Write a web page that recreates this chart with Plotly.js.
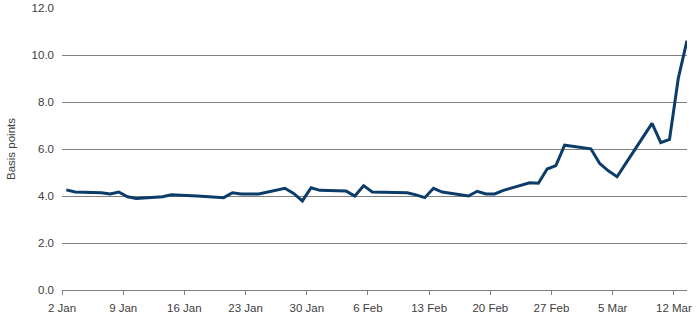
<!DOCTYPE html>
<html>
<head>
<meta charset="utf-8">
<script src="https://cdn.plot.ly/plotly-3.0.1.min.js"></script>
<style>
html,body{margin:0;padding:0;background:#fff;}
#chart{width:700px;height:322px;}
</style>
</head>
<body>
<div id="chart"></div>
<script>
// Trading dates (2020) and spread values in basis points
const dates = [
  '2020-01-02','2020-01-03','2020-01-06','2020-01-07','2020-01-08','2020-01-09','2020-01-10',
  '2020-01-13','2020-01-14','2020-01-15','2020-01-16','2020-01-17',
  '2020-01-20','2020-01-21','2020-01-22','2020-01-23','2020-01-24',
  '2020-01-27','2020-01-28','2020-01-29','2020-01-30','2020-01-31',
  '2020-02-03','2020-02-04','2020-02-05','2020-02-06','2020-02-07',
  '2020-02-10','2020-02-11','2020-02-12','2020-02-13','2020-02-14',
  '2020-02-17','2020-02-18','2020-02-19','2020-02-20','2020-02-21',
  '2020-02-24','2020-02-25','2020-02-26','2020-02-27','2020-02-28',
  '2020-03-02','2020-03-03','2020-03-04','2020-03-05','2020-03-06',
  '2020-03-09','2020-03-10','2020-03-11','2020-03-12','2020-03-13'
];
const basisPoints = [
  4.26, 4.17, 4.14, 4.09, 4.17, 3.97, 3.89,
  3.97, 4.05, 4.04, 4.02, 4.00,
  3.93, 4.14, 4.09, 4.09, 4.09,
  4.33, 4.11, 3.79, 4.35, 4.24,
  4.21, 4.00, 4.44, 4.17, 4.16,
  4.14, 4.05, 3.93, 4.33, 4.17,
  4.00, 4.20, 4.09, 4.09, 4.24,
  4.56, 4.54, 5.15, 5.29, 6.16,
  6.01, 5.39, 5.07, 4.82, 5.39,
  7.09, 6.27, 6.41, 9.00, 10.61
];
const tickDates = ['2020-01-02','2020-01-09','2020-01-16','2020-01-23','2020-01-30','2020-02-06',
  '2020-02-13','2020-02-20','2020-02-27','2020-03-05','2020-03-12'];
const tickLabels = ['2 Jan','9 Jan','16 Jan','23 Jan','30 Jan','6 Feb','13 Feb','20 Feb','27 Feb','5 Mar','12 Mar'];
const yTicks = [0,2,4,6,8,10,12];
const yTickLabels = ['0.0','2.0','4.0','6.0','8.0','10.0','12.0'];

// points sit in the middle of each day slot
const xs = dates.map(d => d + ' 12:00');

const trace = {
  x: xs, y: basisPoints, type: 'scatter', mode: 'lines',
  line: {color: '#0c3c69', width: 3},
  hoverinfo: 'skip'
};

const layout = {
  width: 700, height: 322,
  margin: {l: 62, r: 13, t: 8, b: 32},
  paper_bgcolor: '#ffffff', plot_bgcolor: '#ffffff',
  font: {family: 'Liberation Sans, Arial, sans-serif', size: 11.5, color: '#404040'},
  showlegend: false,
  xaxis: {
    type: 'date',
    range: ['2020-01-02 00:00', '2020-03-13 12:00'],
    tickvals: tickDates, ticktext: tickLabels,
    ticks: 'outside', ticklen: 4, tickwidth: 1, tickcolor: '#808080',
    ticklabelstandoff: 3,
    showline: true, linecolor: '#808080', linewidth: 1,
    showgrid: false, zeroline: false,
    tickfont: {size: 11.5, color: '#404040'}
  },
  yaxis: {
    range: [0, 12],
    tickvals: yTicks, ticktext: yTickLabels,
    ticks: '', showline: false,
    ticklabelstandoff: 7,
    showgrid: true, gridcolor: '#808080', gridwidth: 1,
    zeroline: false,
    tickfont: {size: 11.5, color: '#404040'},
    title: {text: 'Basis points', font: {size: 11.5, color: '#404040'}, standoff: 13}
  }
};

Plotly.newPlot('chart', [trace], layout, {staticPlot: true, displayModeBar: false});
</script>
</body>
</html>
